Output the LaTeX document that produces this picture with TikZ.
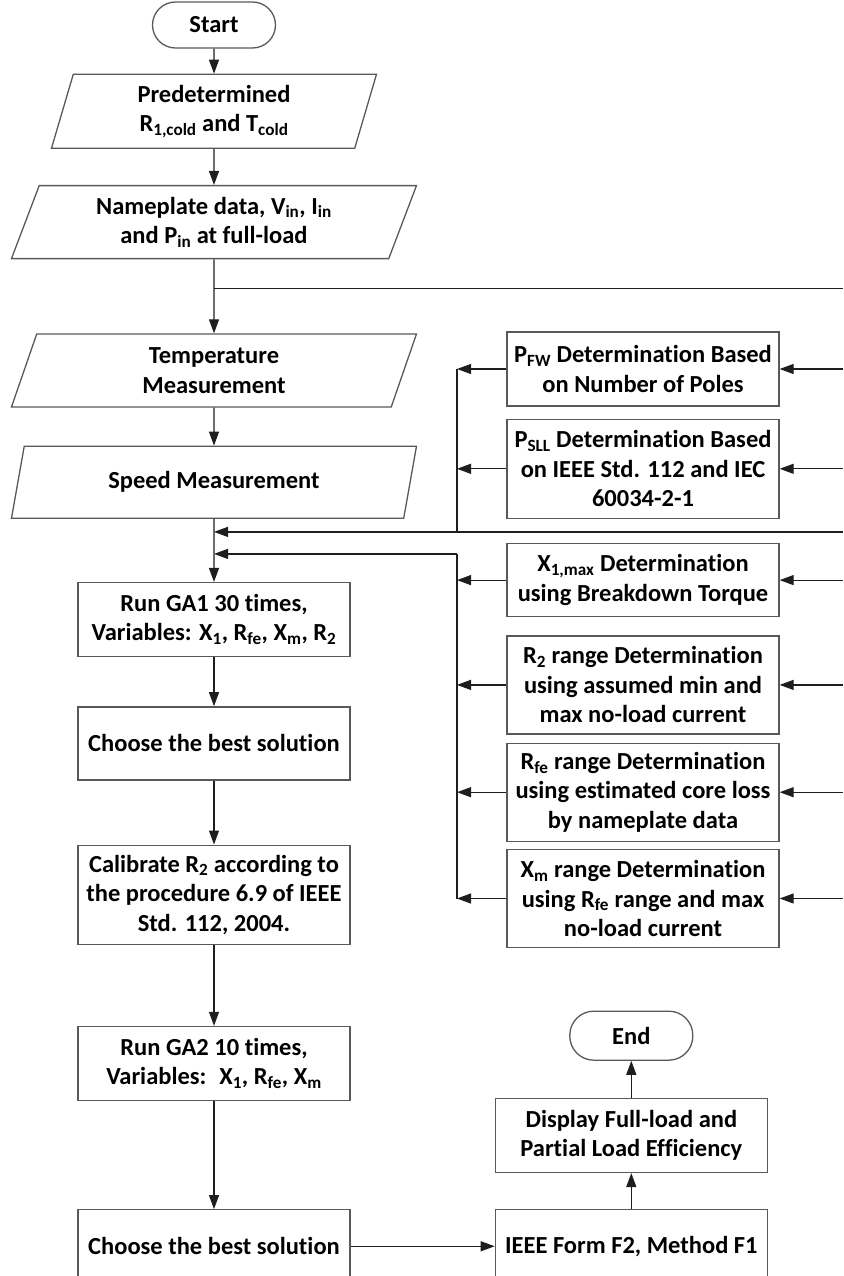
\documentclass[tikz,border=0pt]{standalone}
\usepackage{fontspec}
\setmainfont{Carlito}[Ligatures=NoCommon]
\usepackage{tikz}
\usetikzlibrary{arrows.meta,positioning,calc,shapes.geometric}
\definecolor{boxline}{RGB}{89,89,89}
\definecolor{flowline}{RGB}{30,30,30}
\tikzset{
  txt/.style={font=\fontsize{24.5}{29.5}\selectfont\bfseries, align=center, inner sep=2pt},
  procbox/.style={txt, draw=boxline, line width=1.3pt, rectangle,
                  minimum width=272pt, minimum height=74pt},
  iobox/.style={txt, draw=boxline, line width=1.3pt, trapezium,
                trapezium left angle=63, trapezium right angle=117,
                trapezium stretches body, minimum width=405pt, minimum height=73pt},
  termbox/.style={txt, draw=boxline, line width=1.3pt, rounded corners=23pt,
                  minimum width=123pt, minimum height=46pt},
  flowarr/.style={-{Triangle[length=14pt,width=10pt]}, flowline, line width=1.2pt},
  flowln/.style={flowline, line width=1.2pt},
}

\begin{document}
\begin{tikzpicture}[x=1pt, y=-1pt]
  \useasboundingbox (0,0) rectangle (843,1276);
  \coordinate (edge) at (843,0);
  \coordinate (bus) at (457,0);
  % main column
  \node[termbox] (start) at (214,25) {Start};
  \node[iobox, trapezium left angle=69, trapezium right angle=111,
        minimum width=325pt, minimum height=74pt, below=25pt of start] (pred)
       {Predetermined\\R\textsubscript{1,cold} and T\textsubscript{cold}};
  \node[iobox, below=36pt of pred] (plate)
       {Nameplate data, V\textsubscript{in}, I\textsubscript{in}\\and P\textsubscript{in} at full-load};
  \node[iobox, below=74pt of plate] (temp) {Temperature\\Measurement};
  \node[iobox, minimum height=72pt, below=38pt of temp] (speed) {Speed Measurement};
  \node[procbox, below=63pt of speed] (ga1)
       {Run GA1 30 times,\\Variables: X\textsubscript{1}, R\textsubscript{fe}, X\textsubscript{m}, R\textsubscript{2}};
  \node[procbox, minimum height=73pt, below=49pt of ga1] (best1) {Choose the best solution};
  \node[procbox, minimum height=99pt, below=64pt of best1] (calib)
       {Calibrate R\textsubscript{2} according to\\the procedure 6.9 of IEEE\\Std. 112, 2004.};
  \node[procbox, below=81pt of calib] (ga2)
       {Run GA2 10 times,\\Variables:~ X\textsubscript{1}, R\textsubscript{fe}, X\textsubscript{m}};
  \node[procbox, minimum height=73pt, below=108pt of ga2] (best2) {Choose the best solution};
  % output branch
  \node[procbox, minimum height=73pt, right=144pt of best2] (ieee) {IEEE Form F2, Method F1};
  \node[procbox, above=36pt of ieee] (disp) {Display Full-load and\\Partial Load Efficiency};
  \node[termbox, minimum height=49pt, rounded corners=24pt, above=37pt of disp] (end) {End};
  % right column
  \node[procbox] (pfw) at (643,369)
       {P\textsubscript{FW} Determination Based\\on Number of Poles};
  \node[procbox, minimum height=99pt, below=12pt of pfw] (psll)
       {P\textsubscript{SLL} Determination Based\\on IEEE Std. 112 and IEC\\60034-2-1};
  \node[procbox, minimum height=73pt, below=24pt of psll] (xmax)
       {X\textsubscript{1,max} Determination\\using Breakdown Torque};
  \node[procbox, minimum height=98pt, below=18pt of xmax] (rtwo)
       {R\textsubscript{2} range Determination\\using assumed min and\\max no-load current};
  \node[procbox, minimum height=98pt, below=8pt of rtwo] (rfe)
       {R\textsubscript{fe} range Determination\\using estimated core loss\\by nameplate data};
  \node[procbox, minimum height=98pt, below=7pt of rfe] (xm)
       {X\textsubscript{m} range Determination\\using R\textsubscript{fe} range and max\\no-load current};

  % main flow
  \draw[flowarr] (start) -- (pred);
  \draw[flowarr] (pred) -- (plate);
  \draw[flowarr] (plate) -- (temp);
  \draw[flowarr] (temp) -- (speed);
  \draw[flowarr] (speed) -- (ga1);
  \draw[flowarr] (ga1) -- (best1);
  \draw[flowarr] (best1) -- (calib);
  \draw[flowarr] (calib) -- (ga2);
  \draw[flowarr] (ga2) -- (best2);
  \draw[flowarr] (best2) -- (ieee);
  \draw[flowarr] (ieee) -- (disp);
  \draw[flowarr] (disp) -- (end);

  % side feeds
  \coordinate (split) at ($(plate.south)+(0,29)$);
  \coordinate (joinA) at ($(speed.south)+(0,13)$);
  \coordinate (joinB) at ($(speed.south)+(0,35)$);
  \draw[flowln] (split) -- (split -| edge);
  \draw[flowarr] (joinA -| edge) -- (joinA);
  \draw[flowln] (pfw.west -| bus) -- (joinA -| bus);
  \draw[flowarr] (joinB -| bus) -- (joinB);
  \draw[flowln] (joinB -| bus) -- (xm.west -| bus);
  \foreach \b in {pfw,psll}
    \draw[flowarr] (\b.west) -- (\b.west -| bus);
  \foreach \b in {xmax,rtwo,rfe,xm}
    \draw[flowarr] (\b.west) -- (\b.west -| bus);
  \foreach \b in {pfw,psll,xmax,rtwo,rfe,xm}
    \draw[flowarr] (\b.east -| edge) -- (\b.east);
\end{tikzpicture}
\end{document}
